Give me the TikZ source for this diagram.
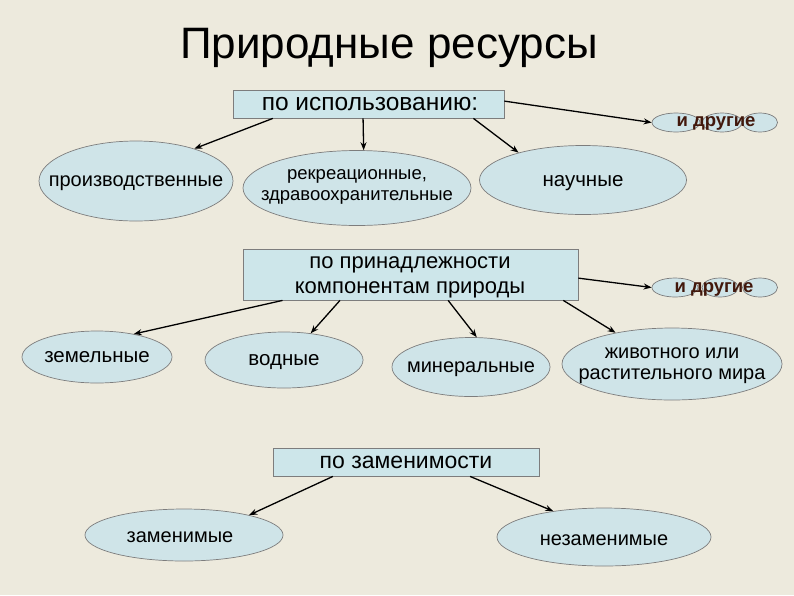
\documentclass[tikz,border=0pt]{standalone}
\usepackage{fontspec}
\setmainfont{Liberation Sans}
\usetikzlibrary{shapes.geometric,arrows.meta,calc}
\definecolor{bg}{RGB}{237,234,221}
\definecolor{ellfill}{RGB}{207,228,232}
\definecolor{boxfill}{RGB}{205,230,234}
\definecolor{edge}{RGB}{125,125,125}
\definecolor{brown}{RGB}{66,24,12}
\tikzset{
  ell/.style={ellipse, draw=edge, fill=ellfill, line width=0.7pt, inner sep=0pt},
  catbox/.style={rectangle, draw=edge, fill=boxfill, line width=0.8pt, inner sep=0pt},
  txt/.style={inner sep=0pt, align=center, text=black},
  arr/.style={-{Stealth[length=8pt,width=6pt]}, line width=1.3pt, black},
  other/.style={inner sep=0pt, text=brown, font=\bfseries\fontsize{18.5}{20}\selectfont}
}
\begin{document}
\begin{tikzpicture}[x=1pt,y=-1pt]
\fill[bg] (0,0) rectangle (794,595);
\useasboundingbox (0,0) rectangle (794,595);

% title
\node[txt, font=\fontsize{44}{50}\selectfont] (title) at (389,48) {Природные ресурсы};

% row 1
\node[catbox, minimum width=271pt, minimum height=28pt] (b1) at (368.5,104) {};
\node[txt, font=\fontsize{24.5}{28}\selectfont] (b1t) at (370,104) {по использованию:};

\node[ell, minimum width=194pt, minimum height=80pt] (p) at (136,181) {};
\node[txt, font=\fontsize{20}{24}\selectfont] (pt) at (136,183) {производственные};
\node[ell, minimum width=228pt, minimum height=75pt] (r) at (357,188) {};
\node[txt, font=\fontsize{18.5}{21.5}\selectfont] (rt) at (357,187) {рекреационные,\\здравоохранительные};
\node[ell, minimum width=207pt, minimum height=69pt] (n) at (583,180) {};
\node[txt, font=\fontsize{20.5}{24}\selectfont] (nt) at (583,183) {научные};

\node[ell, minimum width=48pt, minimum height=19pt] (d1a) at (676,122.5) {};
\node[ell, minimum width=40pt, minimum height=19pt] (d1b) at (722,122.5) {};
\node[ell, minimum width=35pt, minimum height=19pt] (d1c) at (760,122.5) {};
\node[other] (d1t) at (716,123) {и другие};

\draw[arr] ($(b1.south west)!0.148!(b1.south east)$) -- (p.29);
\draw[arr] ($(b1.south west)!0.48!(b1.south east)$) -- (r.80);
\draw[arr] ($(b1.south west)!0.886!(b1.south east)$) -- (n.157);
\draw[arr] ($(b1.north east)!0.4!(b1.south east)$) -- (d1a.west);

% row 2
\node[catbox, minimum width=335pt, minimum height=51pt] (b2) at (410.5,274.5) {};
\node[txt, font=\fontsize{22}{25}\selectfont] (b2t) at (410,277) {по принадлежности\\компонентам природы};

\node[ell, minimum width=150pt, minimum height=52pt] (z) at (97,357) {};
\node[txt, font=\fontsize{20.5}{24}\selectfont] (zt) at (97,357) {земельные};
\node[ell, minimum width=158pt, minimum height=56pt] (v) at (284,360) {};
\node[txt, font=\fontsize{20.5}{24}\selectfont] (vt) at (284,362) {водные};
\node[ell, minimum width=158pt, minimum height=59pt] (m) at (471,367) {};
\node[txt, font=\fontsize{20}{24}\selectfont] (mt) at (471,369) {минеральные};
\node[ell, minimum width=220pt, minimum height=72pt] (zh) at (672,364) {};
\node[txt, font=\fontsize{20}{21}\selectfont] (zht) at (672,366) {животного или\\растительного мира};

\node[ell, minimum width=46pt, minimum height=19pt] (d2a) at (675,287.5) {};
\node[ell, minimum width=36pt, minimum height=19pt] (d2b) at (720,287.5) {};
\node[ell, minimum width=35pt, minimum height=19pt] (d2c) at (760,287.5) {};
\node[other] (d2t) at (714,289) {и другие};

\draw[arr] ($(b2.south west)!0.119!(b2.south east)$) -- (z.32);
\draw[arr] ($(b2.south west)!0.29!(b2.south east)$) -- (v.45);
\draw[arr] ($(b2.south west)!0.612!(b2.south east)$) -- (m.79);
\draw[arr] ($(b2.south west)!0.955!(b2.south east)$) -- (zh.151);
\draw[arr] ($(b2.north east)!0.57!(b2.south east)$) -- (d2a.west);

% row 3
\node[catbox, minimum width=266pt, minimum height=28pt] (b3) at (406,462) {};
\node[txt, font=\fontsize{23}{27}\selectfont] (b3t) at (406,462) {по заменимости};

\node[ell, minimum width=198pt, minimum height=52pt] (zm) at (184,535) {};
\node[txt, font=\fontsize{20}{24}\selectfont] (zmt) at (180,537) {заменимые};
\node[ell, minimum width=214pt, minimum height=58pt] (nz) at (604,537) {};
\node[txt, font=\fontsize{20}{24}\selectfont] (nzt) at (604,540) {незаменимые};

\draw[arr] ($(b3.south west)!0.226!(b3.south east)$) -- (zm.17);
\draw[arr] ($(b3.south west)!0.74!(b3.south east)$) -- (nz.153);
\end{tikzpicture}
\end{document}
